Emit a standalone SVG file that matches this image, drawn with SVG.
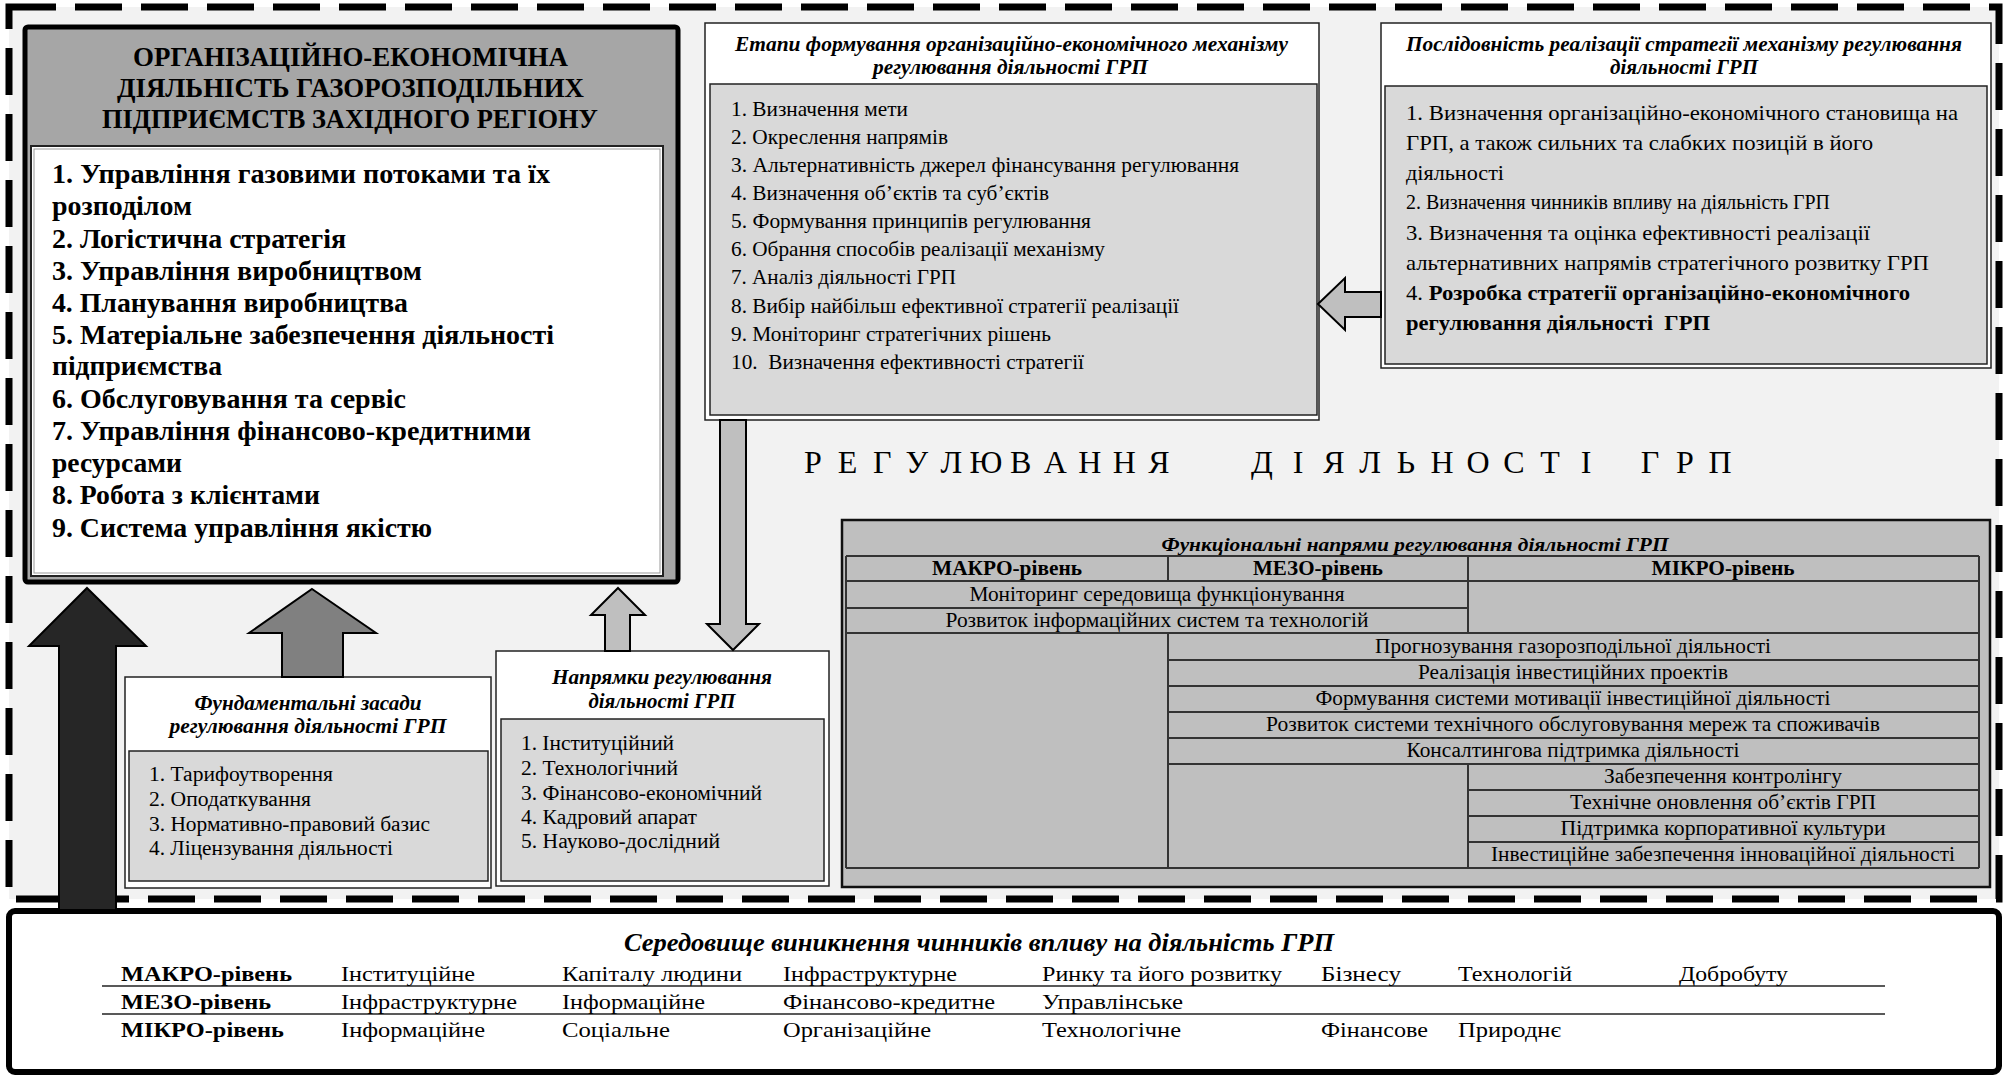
<svg xmlns="http://www.w3.org/2000/svg" width="2005" height="1076" viewBox="0 0 2005 1076" font-family="Liberation Serif, Times New Roman, serif">
<defs>
<style>
text{font-family:"Liberation Serif","Times New Roman",serif;fill:#000}
.b{font-weight:bold}
.bi{font-weight:bold;font-style:italic}
.m{text-anchor:middle}
.box{fill:#fff;stroke:#222;stroke-width:1.5}
.gbox{fill:#d9d9d9;stroke:#222;stroke-width:1.5}
.ln{stroke:#333;stroke-width:2;fill:none}
.arr{stroke:#000;stroke-width:2;stroke-linejoin:miter}
.hd{font-size:32px;text-anchor:middle}
.f27{font-size:27px}
.f21{font-size:21px}
.f22{font-size:22px}
.f20{font-size:20px}
.f19{font-size:19px}
</style>
</defs>
<rect width="2005" height="1076" fill="#fff"/>
<rect x="9" y="7" width="1990" height="892" fill="#f2f2f2" stroke="#000" stroke-width="7" stroke-dasharray="47 19"/>

<text class="hd" x="813 847.6 882.2 916.8 951.4 986 1020.6 1055.2 1089.8 1124.4 1159" y="473">РЕГУЛЮВАННЯ</text>
<text class="hd" x="1262 1298 1334 1370 1406 1442 1478 1514 1550 1586" y="473">ДІЯЛЬНОСТІ</text>
<text class="hd" x="1650 1685 1720" y="473">ГРП</text>

<g id="main-activity">
<rect x="25" y="27" width="653" height="555" rx="3" fill="#a6a6a6" stroke="#000" stroke-width="5"/>
<rect x="31" y="146" width="632" height="430" fill="#fff" stroke="#222" stroke-width="2"/>
<rect x="34" y="149" width="626" height="424" fill="none" stroke="#999" stroke-width="1"/>
<g class="b" style="font-size:28px">
<text x="133" y="66" textLength="435" lengthAdjust="spacingAndGlyphs">ОРГАНІЗАЦІЙНО-ЕКОНОМІЧНА</text>
<text x="117" y="97" textLength="467" lengthAdjust="spacingAndGlyphs">ДІЯЛЬНІСТЬ ГАЗОРОЗПОДІЛЬНИХ</text>
<text x="102" y="128" textLength="496" lengthAdjust="spacingAndGlyphs">ПІДПРИЄМСТВ ЗАХІДНОГО РЕГІОНУ</text>
</g>
<g class="b f27">
<text x="52" y="183" textLength="498" lengthAdjust="spacingAndGlyphs">1. Управління газовими потоками та їх</text>
<text x="52" y="215" textLength="140" lengthAdjust="spacingAndGlyphs">розподілом</text>
<text x="52" y="248" textLength="294" lengthAdjust="spacingAndGlyphs">2. Логістична стратегія</text>
<text x="52" y="280" textLength="370" lengthAdjust="spacingAndGlyphs">3. Управління виробництвом</text>
<text x="52" y="312" textLength="356" lengthAdjust="spacingAndGlyphs">4. Планування виробництва</text>
<text x="52" y="344" textLength="502" lengthAdjust="spacingAndGlyphs">5. Матеріальне забезпечення діяльності</text>
<text x="52" y="375" textLength="170" lengthAdjust="spacingAndGlyphs">підприємства</text>
<text x="52" y="408" textLength="354" lengthAdjust="spacingAndGlyphs">6. Обслуговування та сервіс</text>
<text x="52" y="440" textLength="479" lengthAdjust="spacingAndGlyphs">7. Управління фінансово-кредитними</text>
<text x="52" y="472" textLength="130" lengthAdjust="spacingAndGlyphs">ресурсами</text>
<text x="52" y="504" textLength="268" lengthAdjust="spacingAndGlyphs">8. Робота з клієнтами</text>
<text x="52" y="537" textLength="380" lengthAdjust="spacingAndGlyphs">9. Система управління якістю</text>
</g>
</g>

<g id="stages">
<rect class="box" x="705" y="23" width="614" height="397"/>
<rect class="gbox" x="710" y="84" width="607" height="331"/>
<g class="bi f21">
<text x="735" y="51" textLength="553" lengthAdjust="spacingAndGlyphs">Етапи формування організаційно-економічного механізму</text>
<text x="873" y="74" textLength="275" lengthAdjust="spacingAndGlyphs">регулювання діяльності ГРП</text>
</g>
<g class="f21">
<text x="731" y="116" textLength="177" lengthAdjust="spacingAndGlyphs">1. Визначення мети</text>
<text x="731" y="144" textLength="217" lengthAdjust="spacingAndGlyphs">2. Окреслення напрямів</text>
<text x="731" y="172" textLength="508" lengthAdjust="spacingAndGlyphs">3. Альтернативність джерел фінансування регулювання</text>
<text x="731" y="200" textLength="318" lengthAdjust="spacingAndGlyphs">4. Визначення об’єктів та суб’єктів</text>
<text x="731" y="228" textLength="360" lengthAdjust="spacingAndGlyphs">5. Формування принципів регулювання</text>
<text x="731" y="256" textLength="374" lengthAdjust="spacingAndGlyphs">6. Обрання способів реалізації механізму</text>
<text x="731" y="284" textLength="225" lengthAdjust="spacingAndGlyphs">7. Аналіз діяльності ГРП</text>
<text x="731" y="313" textLength="448" lengthAdjust="spacingAndGlyphs">8. Вибір найбільш ефективної стратегії реалізації</text>
<text x="731" y="341" textLength="320" lengthAdjust="spacingAndGlyphs">9. Моніторинг стратегічних рішень</text>
<text x="731" y="369" textLength="353" lengthAdjust="spacingAndGlyphs" style="white-space:pre">10.  Визначення ефективності стратегії</text>
</g>
</g>

<g id="sequence">
<rect class="box" x="1381" y="23" width="610" height="345"/>
<rect class="gbox" x="1385" y="86" width="602" height="278"/>
<g class="bi f21">
<text x="1406" y="51" textLength="556" lengthAdjust="spacingAndGlyphs">Послідовність реалізації стратегії механізму регулювання</text>
<text x="1610" y="74" textLength="148" lengthAdjust="spacingAndGlyphs">діяльності ГРП</text>
</g>
<g class="f22">
<text x="1406" y="120" textLength="552" lengthAdjust="spacingAndGlyphs">1. Визначення організаційно-економічного становища на</text>
<text x="1406" y="150" textLength="467" lengthAdjust="spacingAndGlyphs">ГРП, а також сильних та слабких позицій в його</text>
<text x="1406" y="180" textLength="98" lengthAdjust="spacingAndGlyphs">діяльності</text>
<text x="1406" y="209" textLength="424" lengthAdjust="spacingAndGlyphs">2. Визначення чинників впливу на діяльність ГРП</text>
<text x="1406" y="240" textLength="464" lengthAdjust="spacingAndGlyphs">3. Визначення та оцінка ефективності реалізації</text>
<text x="1406" y="270" textLength="523" lengthAdjust="spacingAndGlyphs">альтернативних напрямів стратегічного розвитку ГРП</text>
<text x="1406" y="300" textLength="504" lengthAdjust="spacingAndGlyphs">4. <tspan class="b">Розробка стратегії організаційно-економічного</tspan></text>
<text x="1406" y="330" textLength="304" lengthAdjust="spacingAndGlyphs" class="b" style="white-space:pre">регулювання діяльності  ГРП</text>
</g>
</g>

<g id="functional">
<rect x="842" y="520" width="1148" height="367" fill="#bfbfbf" stroke="#111" stroke-width="2.5"/>
<path class="ln" d="M846 556H1979M846 581H1979M846 608H1468M846 633H1979M1168 660H1979M1168 686H1979M1168 712H1979M1168 738H1979M1168 764H1979M1468 790H1979M1468 816H1979M1468 842H1979M846 868H1979M846 556V868M1979 556V868M1168 556V581M1168 633V868M1468 556V633M1468 764V868"/>
<text class="bi f19 m" x="1415" y="551" textLength="507" lengthAdjust="spacingAndGlyphs">Функціональні напрями регулювання діяльності ГРП</text>
<g class="b f20 m">
<text x="1007" y="575" textLength="150" lengthAdjust="spacingAndGlyphs">МАКРО-рівень</text>
<text x="1318" y="575" textLength="130" lengthAdjust="spacingAndGlyphs">МЕЗО-рівень</text>
<text x="1723" y="575" textLength="143" lengthAdjust="spacingAndGlyphs">МІКРО-рівень</text>
</g>
<g class="f20 m">
<text x="1157" y="601" textLength="375" lengthAdjust="spacingAndGlyphs">Моніторинг середовища функціонування</text>
<text x="1157" y="627" textLength="423" lengthAdjust="spacingAndGlyphs">Розвиток інформаційних систем та технологій</text>
<text x="1573" y="653" textLength="396" lengthAdjust="spacingAndGlyphs">Прогнозування газорозподільної діяльності</text>
<text x="1573" y="679" textLength="310" lengthAdjust="spacingAndGlyphs">Реалізація інвестиційних проектів</text>
<text x="1573" y="705" textLength="515" lengthAdjust="spacingAndGlyphs">Формування системи мотивації інвестиційної діяльності</text>
<text x="1573" y="731" textLength="614" lengthAdjust="spacingAndGlyphs">Розвиток системи технічного обслуговування мереж та споживачів</text>
<text x="1573" y="757" textLength="333" lengthAdjust="spacingAndGlyphs">Консалтингова підтримка діяльності</text>
<text x="1723" y="783" textLength="238" lengthAdjust="spacingAndGlyphs">Забезпечення контролінгу</text>
<text x="1723" y="809" textLength="306" lengthAdjust="spacingAndGlyphs">Технічне оновлення об’єктів ГРП</text>
<text x="1723" y="835" textLength="325" lengthAdjust="spacingAndGlyphs">Підтримка корпоративної культури</text>
<text x="1723" y="861" textLength="464" lengthAdjust="spacingAndGlyphs">Інвестиційне забезпечення інноваційної діяльності</text>
</g>
</g>

<g id="directions">
<rect class="box" x="496" y="651" width="333" height="235"/>
<rect class="gbox" x="501" y="719" width="323" height="162"/>
<g class="bi f21 m">
<text x="662" y="684" textLength="220" lengthAdjust="spacingAndGlyphs">Напрямки регулювання</text>
<text x="662" y="708" textLength="147" lengthAdjust="spacingAndGlyphs">діяльності ГРП</text>
</g>
<g class="f20">
<text x="521" y="750" textLength="153" lengthAdjust="spacingAndGlyphs">1. Інституційний</text>
<text x="521" y="775" textLength="157" lengthAdjust="spacingAndGlyphs">2. Технологічний</text>
<text x="521" y="800" textLength="241" lengthAdjust="spacingAndGlyphs">3. Фінансово-економічний</text>
<text x="521" y="824" textLength="176" lengthAdjust="spacingAndGlyphs">4. Кадровий апарат</text>
<text x="521" y="848" textLength="199" lengthAdjust="spacingAndGlyphs">5. Науково-дослідний</text>
</g>
</g>

<g id="fundamentals">
<rect class="box" x="125" y="677" width="366" height="211"/>
<rect class="gbox" x="129" y="751" width="359" height="130"/>
<g class="bi f21 m">
<text x="308" y="710" textLength="227" lengthAdjust="spacingAndGlyphs">Фундаментальні засади</text>
<text x="308" y="733" textLength="277" lengthAdjust="spacingAndGlyphs">регулювання діяльності ГРП</text>
</g>
<g class="f20">
<text x="149" y="781" textLength="184" lengthAdjust="spacingAndGlyphs">1. Тарифоутворення</text>
<text x="149" y="806" textLength="162" lengthAdjust="spacingAndGlyphs">2. Оподаткування</text>
<text x="149" y="831" textLength="281" lengthAdjust="spacingAndGlyphs">3. Нормативно-правовий базис</text>
<text x="149" y="855" textLength="244" lengthAdjust="spacingAndGlyphs">4. Ліцензування діяльності</text>
</g>
</g>

<g id="environment">
<rect x="9" y="911" width="1990" height="161" rx="6" fill="#fff" stroke="#000" stroke-width="6"/>
<path d="M102 986H1885M102 1014H1885" stroke="#595959" stroke-width="2" fill="none"/>
<text class="bi m" style="font-size:26px" x="979" y="951" textLength="710" lengthAdjust="spacingAndGlyphs">Середовище виникнення чинників впливу на діяльність ГРП</text>
<g class="f22">
<text class="b" x="121" y="981" textLength="171" lengthAdjust="spacingAndGlyphs">МАКРО-рівень</text>
<text x="341" y="981" textLength="134" lengthAdjust="spacingAndGlyphs">Інституційне</text>
<text x="562" y="981" textLength="180" lengthAdjust="spacingAndGlyphs">Капіталу людини</text>
<text x="783" y="981" textLength="174" lengthAdjust="spacingAndGlyphs">Інфраструктурне</text>
<text x="1042" y="981" textLength="240" lengthAdjust="spacingAndGlyphs">Ринку та його розвитку</text>
<text x="1321" y="981" textLength="80" lengthAdjust="spacingAndGlyphs">Бізнесу</text>
<text x="1458" y="981" textLength="114" lengthAdjust="spacingAndGlyphs">Технологій</text>
<text x="1679" y="981" textLength="109" lengthAdjust="spacingAndGlyphs">Добробуту</text>
<text class="b" x="121" y="1009" textLength="150" lengthAdjust="spacingAndGlyphs">МЕЗО-рівень</text>
<text x="341" y="1009" textLength="176" lengthAdjust="spacingAndGlyphs">Інфраструктурне</text>
<text x="562" y="1009" textLength="143" lengthAdjust="spacingAndGlyphs">Інформаційне</text>
<text x="783" y="1009" textLength="212" lengthAdjust="spacingAndGlyphs">Фінансово-кредитне</text>
<text x="1042" y="1009" textLength="141" lengthAdjust="spacingAndGlyphs">Управлінське</text>
<text class="b" x="121" y="1037" textLength="163" lengthAdjust="spacingAndGlyphs">МІКРО-рівень</text>
<text x="341" y="1037" textLength="144" lengthAdjust="spacingAndGlyphs">Інформаційне</text>
<text x="562" y="1037" textLength="108" lengthAdjust="spacingAndGlyphs">Соціальне</text>
<text x="783" y="1037" textLength="148" lengthAdjust="spacingAndGlyphs">Організаційне</text>
<text x="1042" y="1037" textLength="139" lengthAdjust="spacingAndGlyphs">Технологічне</text>
<text x="1321" y="1037" textLength="107" lengthAdjust="spacingAndGlyphs">Фінансове</text>
<text x="1458" y="1037" textLength="103" lengthAdjust="spacingAndGlyphs">Природнє</text>
</g>
</g>

<g id="connectors">
<polygon class="arr" fill="#262626" points="87,588 146,646 116,646 116,910 59,910 59,646 29,646"/>
<polygon class="arr" fill="#808080" points="312,589 376,633 343,633 343,677 282,677 282,633 249,633"/>
<polygon class="arr" fill="#bfbfbf" points="618,588 645,615 630,615 630,651 605,651 605,615 591,615"/>
<polygon class="arr" fill="#bfbfbf" points="720,420 746,420 746,624 759,624 733,650 707,624 720,624"/>
<polygon class="arr" fill="#bfbfbf" points="1318,304 1345,278 1345,292 1381,292 1381,317 1345,317 1345,330"/>
</g>
</svg>
